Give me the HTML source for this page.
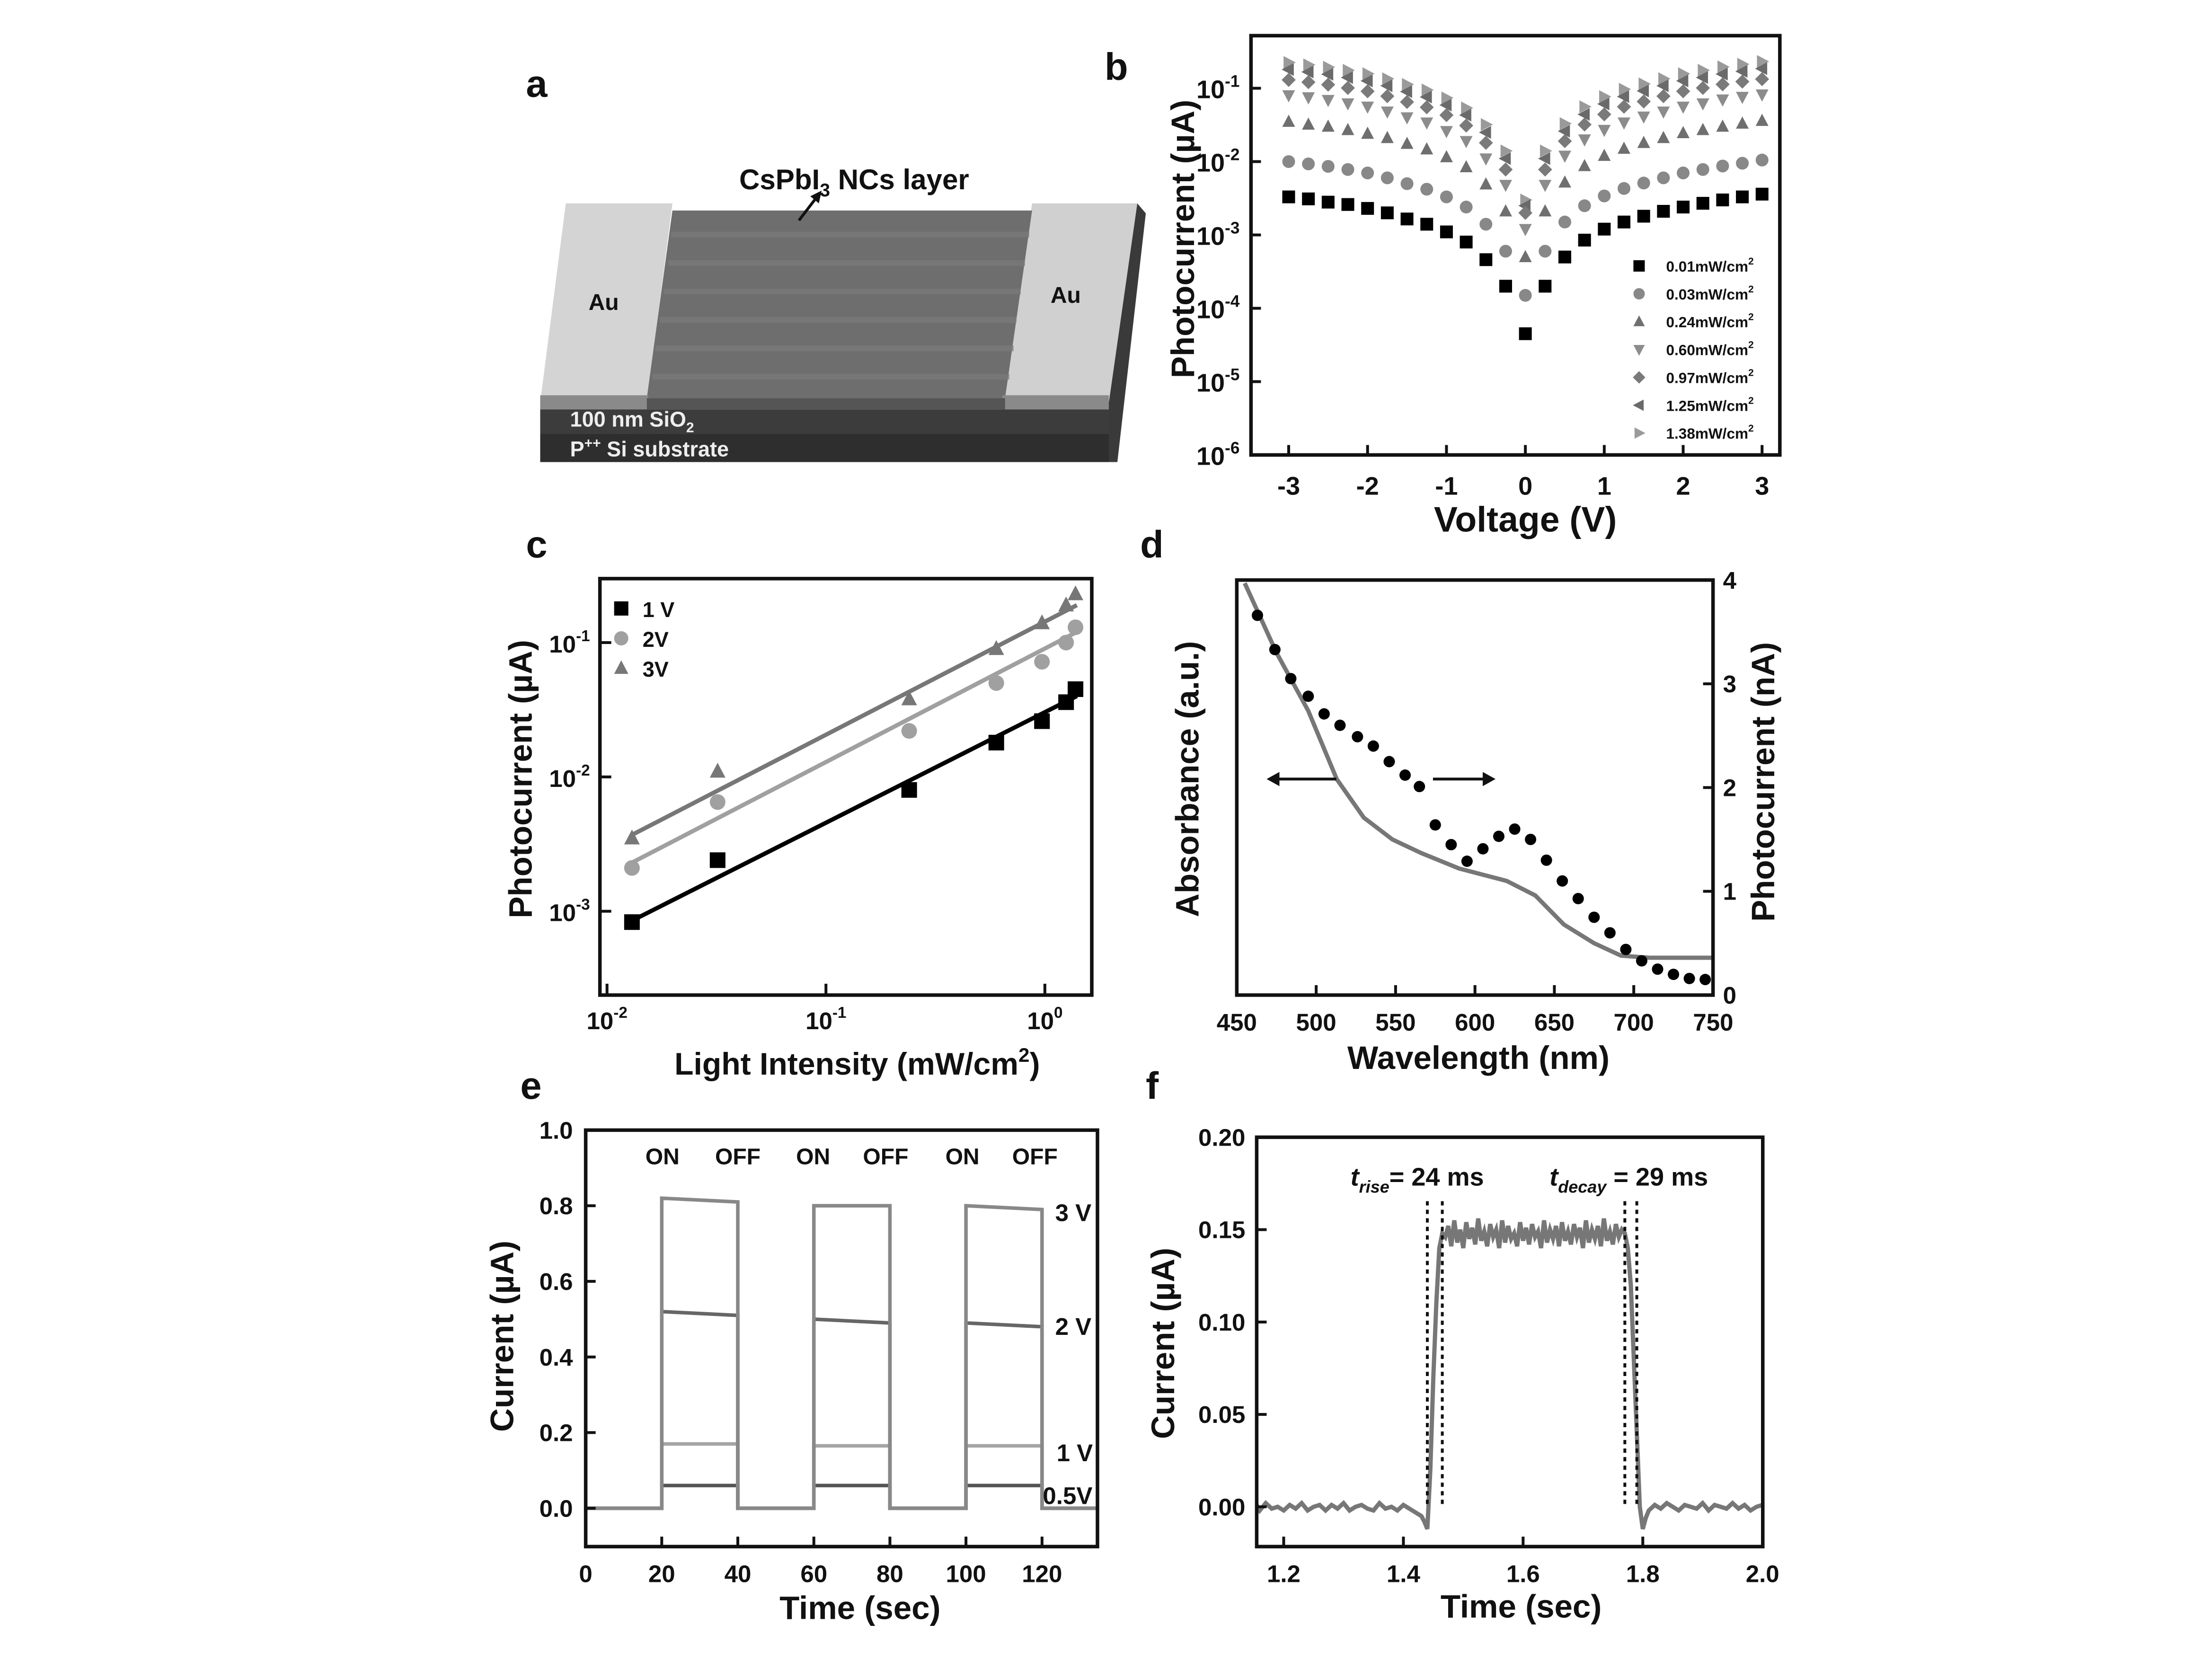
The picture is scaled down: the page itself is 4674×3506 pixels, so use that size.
<!DOCTYPE html>
<html><head><meta charset="utf-8"><style>
html,body{margin:0;padding:0;background:#fff;}
svg{display:block;}
text{font-family:"Liberation Sans",Arial,sans-serif;font-weight:bold;fill:#111;}
</style></head><body>
<svg id="fig" xmlns="http://www.w3.org/2000/svg" width="4674" height="3506" viewBox="0 0 1556 1167">
<rect x="0" y="0" width="1556" height="1167" fill="#fff"/>
<text x="370" y="68" font-size="27">a</text>
<text x="777" y="56" font-size="27">b</text>
<text x="370" y="392" font-size="27">c</text>
<text x="802" y="392" font-size="27">d</text>
<text x="366" y="773" font-size="27">e</text>
<text x="806" y="773" font-size="27">f</text>

<g>
  <polygon points="780,283 800,143 806,150 786,325 780,325" fill="#3a3a3a"/>
  <polygon points="398,143 473,143 455,283 380,283" fill="#d4d4d4"/>
  <polygon points="726,143 800,143 780,283 705,283" fill="#d0d0d0"/>
  <polygon points="473,148 726,148 707,280 455,280" fill="#6e6e6e"/>
  <g stroke="#7c7c7c" stroke-width="4" opacity="0.7">
    <line x1="472" y1="165" x2="724" y2="165"/><line x1="470" y1="185" x2="721" y2="185"/>
    <line x1="467" y1="205" x2="718" y2="205"/><line x1="464" y1="225" x2="715" y2="225"/>
    <line x1="461" y1="245" x2="713" y2="245"/><line x1="459" y1="265" x2="710" y2="265"/>
  </g>
  <rect x="380" y="278" width="76" height="12" fill="#8a8a8a"/>
  <rect x="705" y="278" width="75" height="12" fill="#8a8a8a"/>
  <rect x="455" y="280" width="252" height="8" fill="#555"/>
  <rect x="380" y="288" width="400" height="17" fill="#3c3c3c"/>
  <rect x="380" y="305" width="400" height="20" fill="#2e2e2e"/>
  <text x="414" y="218" font-size="16">Au</text>
  <text x="739" y="213" font-size="16">Au</text>
  <text x="520" y="133" font-size="20">CsPbI<tspan font-size="13" dy="5">3</tspan><tspan dy="-5"> NCs layer</tspan></text>
  <line x1="562" y1="155" x2="575" y2="138" stroke="#111" stroke-width="2"/>
  <polygon points="578,134 570,138 576,143" fill="#111"/>
  <text x="401" y="300" font-size="15" style="fill:#eee">100 nm SiO<tspan font-size="10" dy="4">2</tspan></text>
  <text x="401" y="321" font-size="15" style="fill:#eee">P<tspan font-size="10" dy="-6">++</tspan><tspan dy="6"> Si substrate</tspan></text>
</g>

<g id="pb"></g>
<g id="pc"></g>
<g id="pd"></g>
<g id="pe"></g>
<g id="pf"></g>
</svg>
<script>
const bVolt = [-3,-2.75,-2.5,-2.25,-2,-1.75,-1.5,-1.25,-1,-0.75,-0.5,-0.25,0,0.25,0.5,0.75,1,1.25,1.5,1.75,2,2.25,2.5,2.75,3];
const bLabels = ['0.01mW/cm','0.03mW/cm','0.24mW/cm','0.60mW/cm','0.97mW/cm','1.25mW/cm','1.38mW/cm'];
const bS1 = [3.3,3.1,2.8,2.6,2.3,2.0,1.65,1.4,1.1,0.8,0.46,0.2,0.045,0.2,0.5,0.85,1.2,1.5,1.8,2.1,2.4,2.7,3.0,3.3,3.6];
const bS2 = [10,9.3,8.6,7.8,7,6,5,4.2,3.3,2.4,1.4,0.6,0.15,0.6,1.5,2.5,3.4,4.3,5.1,6,7,7.8,8.7,9.5,10.5];
const bS3 = [35,32,30,27,24,21,17.5,14.7,11.5,8.4,4.9,2.1,0.5,2.1,5.2,8.7,12,15,18,21,24.5,27,30,33,36];
const bS4 = [80,75,69,62,56,48,40,34,26,19,11,4.8,1.2,4.8,12,20,27,34,41,48,56,62,70,76,82];
const bS5 = [130,121,112,101,91,78,65,55,43,31,18,7.8,2,7.8,19,32,44,56,66,78,91,101,113,123,133];
const bS6 = [180,167,155,140,126,108,90,76,59,43,25,11,2.5,11,26,44,61,77,92,108,126,140,156,170,185];
const bS7 = [225,209,194,176,158,135,113,95,74,54,32,14,3,14,33,56,77,97,115,135,158,176,196,213,232];
const bXTicks = [-3,-2,-1,0,1,2,3];
const bYTicks = [-6,-5,-4,-3,-2,-1];

const cIntensity = [0.013,0.032,0.24,0.6,0.97,1.25,1.38];
const c1V = [8.3e-4,2.4e-3,8e-3,1.8e-2,2.6e-2,3.6e-2,4.5e-2];
const c2V = [2.1e-3,6.5e-3,2.2e-2,5e-2,7.2e-2,1.0e-1,1.3e-1];
const c3V = [3.5e-3,1.1e-2,3.8e-2,9e-2,1.4e-1,1.9e-1,2.3e-1];
const cFitX = [0.013,1.4];
const cFit1 = [8.5e-4,4.0e-2];
const cFit2 = [2.3e-3,1.2e-1];
const cFit3 = [3.7e-3,1.9e-1];
const cXTicks = [-2,-1,0];
const cYTicks = [-3,-2,-1];

const dAbsWl = [455,475,495,513,530,548,566,590,620,638,656,675,692,710,750];
const dAbsVal = [3.97,3.3,2.74,2.08,1.71,1.5,1.37,1.22,1.1,0.96,0.68,0.5,0.38,0.36,0.36];
const dPcWl = [463,474,484,495,505,515,526,536,546,556,565,575,585,595,605,615,625,635,645,655,665,675,685,695,705,715,725,735,745];
const dPcVal = [3.66,3.33,3.05,2.88,2.71,2.6,2.49,2.4,2.25,2.12,2.01,1.64,1.45,1.29,1.41,1.53,1.6,1.5,1.3,1.1,0.93,0.75,0.6,0.44,0.33,0.25,0.2,0.16,0.15];
const dXTicks = [450,500,550,600,650,700,750];
const dYTicks = [0,1,2,3,4];

const eOnStart = [20,60,100];
const eOnEnd = [40,80,120];
const e3Start = [0.82,0.80,0.80], e3End = [0.81,0.80,0.79];
const e2Start = [0.52,0.50,0.49], e2End = [0.51,0.49,0.48];
const e1Start = [0.17,0.165,0.165], e1End = [0.17,0.165,0.165];
const e05Start = [0.06,0.06,0.06], e05End = [0.06,0.06,0.06];
const eXTicks = [0,20,40,60,80,100,120];
const eYTicks = [0,0.2,0.4,0.6,0.8,1.0];

const fBeforeStart = 1.15, fStep = 0.01;
const fBefore = [0.001,-0.002,0.002,-0.001,0.0,-0.002,0.001,-0.001,0.002,-0.002,0.0,0.001,-0.002,0.001,-0.001,0.002,-0.002,0.0,0.001,-0.001,-0.002,0.002,-0.001,0.0,-0.002,0.001,-0.001,-0.003,-0.005];
const fRiseT = [1.435,1.44,1.445,1.45,1.455,1.46,1.465];
const fRiseV = [-0.008,-0.012,0.02,0.07,0.11,0.14,0.148];
const fPlatStart = 1.47, fPlatStep = 0.005;
const fPlat = [0.146,0.152,0.141,0.155,0.143,0.150,0.140,0.154,0.145,0.151,0.142,0.156,0.144,0.149,0.141,0.153,0.146,0.150,0.140,0.155,0.143,0.152,0.145,0.148,0.141,0.154,0.144,0.151,0.142,0.153,0.146,0.149,0.140,0.155,0.143,0.150,0.145,0.152,0.141,0.154,0.144,0.149,0.142,0.153,0.146,0.151,0.140,0.155,0.143,0.150,0.145,0.152,0.141,0.156,0.144,0.149,0.142,0.153,0.146,0.150,0.148];
const fFallT = [1.775,1.78,1.785,1.79,1.795,1.80,1.805];
const fFallV = [0.14,0.12,0.08,0.04,0.0,-0.012,-0.006];
const fAfterStart = 1.81;
const fAfter = [-0.002,0.001,-0.001,0.002,0.0,-0.002,0.001,0.0,-0.001,0.002,-0.002,0.001,0.0,-0.001,0.002,-0.001,0.001,-0.002,0.0,0.001];
const fMarkers = [1.44,1.465,1.77,1.79];
const fXTicks = [1.2,1.4,1.6,1.8,2.0];
const fYTicks = [0,0.05,0.10,0.15,0.20];

const NS = 'http://www.w3.org/2000/svg';
function mk(tag, attrs, parent){
  const el = document.createElementNS(NS, tag);
  for (const k in attrs) el.setAttribute(k, attrs[k]);
  parent.appendChild(el);
  return el;
}
function txt(parent, x, y, s, size, anchor){
  const t = mk('text', {x:x, y:y, 'font-size':size, 'text-anchor':anchor||'middle'}, parent);
  t.textContent = s;
  return t;
}
function powLabel(parent, x, y, exp, size, anchor){
  const t = mk('text', {x:x, y:y, 'font-size':size, 'text-anchor':anchor||'middle'}, parent);
  t.appendChild(document.createTextNode('10'));
  const sp = mk('tspan', {dy:-8, 'font-size':size*0.65}, t);
  sp.textContent = String(exp);
  return t;
}
function marker(parent, shape, x, y, s, color){
  let el;
  if (shape==='square') el = mk('rect', {x:x-s/2, y:y-s/2, width:s, height:s, fill:color}, parent);
  else if (shape==='circle') el = mk('circle', {cx:x, cy:y, r:s/2, fill:color}, parent);
  else {
    const h=s/2; let p;
    if (shape==='up') p=[[x,y-h*1.1],[x+h,y+h*0.8],[x-h,y+h*0.8]];
    else if (shape==='down') p=[[x,y+h*1.1],[x+h,y-h*0.8],[x-h,y-h*0.8]];
    else if (shape==='left') p=[[x-h*1.1,y],[x+h*0.8,y-h],[x+h*0.8,y+h]];
    else if (shape==='right') p=[[x+h*1.1,y],[x-h*0.8,y-h],[x-h*0.8,y+h]];
    else p=[[x,y-h*1.1],[x+h*1.1,y],[x,y+h*1.1],[x-h*1.1,y]];
    el = mk('polygon', {points:p.map(q=>q.join(',')).join(' '), fill:color}, parent);
  }
  return el;
}
function frame(parent, x0,y0,x1,y1){
  return mk('rect',{x:x0,y:y0,width:x1-x0,height:y1-y0,fill:'none',stroke:'#111','stroke-width':2.5},parent);
}
function tick(parent,x1,y1,x2,y2){
  return mk('line',{x1:x1,y1:y1,x2:x2,y2:y2,stroke:'#111','stroke-width':2},parent);
}

(function(){
  const g = document.getElementById('pb');
  const L=880,R=1252,T=25,B=320;
  const xb = v => 1073 + v*55.5;
  const yb = v => 320 - (Math.log10(v)+6)*51.6;
  const series = [bS7,bS6,bS5,bS4,bS3,bS2,bS1];
  const shapes = ['right','left','diamond','down','up','circle','square'];
  const colors = ['#9a9a9a','#6a6a6a','#7a7a7a','#8c8c8c','#6f6f6f','#888','#000'];
  series.forEach((s,si)=>{
    const sg = mk('g',{},g);
    
    
    s.forEach((v,i)=>{
      const m = marker(sg, shapes[si], xb(bVolt[i]), yb(v*1e-3), 9, colors[si]);
      
      
    });
  });
  const fr = frame(g,L,T,R,B);
  
  
  bXTicks.forEach(v=>{
    tick(g,xb(v),B,xb(v),B-7);
    const t = txt(g,xb(v),348,String(v),18);
    
    
  });
  bYTicks.forEach(e=>{
    tick(g,L,yb(Math.pow(10,e)),L+7,yb(Math.pow(10,e)));
    const t = powLabel(g,872,yb(Math.pow(10,e))+7,e,18,'end');
    
    
  });
  const xt = txt(g,1073,374,'Voltage (V)',25);
  
  
  const yt = txt(g,0,0,'Photocurrent (µA)',23);
  yt.setAttribute('transform','translate(840,168) rotate(-90)');
  
  
  const lshapes=['square','circle','up','down','diamond','left','right'];
  const lcolors=['#000','#888','#6f6f6f','#8c8c8c','#7a7a7a','#6a6a6a','#9a9a9a'];
  bLabels.forEach((lab,i)=>{
    const y = 187 + i*19.6;
    const m = marker(g,lshapes[i],1153,y,8,lcolors[i]);
    
    
    const t = mk('text',{x:1172,y:y+4,'font-size':10.5},g);
    t.appendChild(document.createTextNode(lab));
    const sp = mk('tspan',{dy:-5,'font-size':7},t); sp.textContent='2';
    
    
  });
})();

(function(){
  const g = document.getElementById('pc');
  const L=422,R=768,T=407,B=700;
  const xc = v => 735 + Math.log10(v)*154;
  const yc = v => 452 - (Math.log10(v)+1)*94.5;
  const fits=[cFit1,cFit2,cFit3], data=[c1V,c2V,c3V];
  const col=['#000','#a0a0a0','#777'], shp=['square','circle','up'];
  fits.forEach((f,i)=>{
    const l = mk('line',{x1:xc(cFitX[0]),y1:yc(f[0]),x2:xc(cFitX[1]),y2:yc(f[1]),stroke:col[i],'stroke-width':3},g);
    
    
  });
  data.forEach((s,i)=>{
    s.forEach((v,j)=>{
      const m = marker(g,shp[i],xc(cIntensity[j]),yc(v),11,col[i]);
      
      
    });
  });
  const fr = frame(g,L,T,R,B);
  
  
  cXTicks.forEach(e=>{
    const x = xc(Math.pow(10,e));
    tick(g,x,B,x,B-8);
    const t = powLabel(g,x,724,e,17);
    
    
  });
  cYTicks.forEach(e=>{
    const y = yc(Math.pow(10,e));
    tick(g,L,y,L+8,y);
    const t = powLabel(g,415,y+7,e,17,'end');
    
    
  });
  const xt = mk('text',{x:603,y:756,'font-size':22,'text-anchor':'middle'},g);
  xt.appendChild(document.createTextNode('Light Intensity (mW/cm'));
  const sp = mk('tspan',{dy:-9,'font-size':14},xt); sp.textContent='2';
  const sp2 = mk('tspan',{dy:9},xt); sp2.textContent=')';
  
  
  const yt = txt(g,0,0,'Photocurrent (µA)',23);
  yt.setAttribute('transform','translate(374,548) rotate(-90)');
  
  
  ['1 V','2V','3V'].forEach((lab,i)=>{
    const y = 428 + i*21;
    const m = marker(g,shp[i],437,y,10,col[i]);
    
    
    const t = txt(g,452,y+6,lab,15,'start');
    
    
  });
})();

(function(){
  const g = document.getElementById('pd');
  const L=870,R=1205,T=408,B=700;
  const xd = w => 870 + (w-450)*1.117;
  const yd = v => 700 - v*73;
  const p = mk('path',{d:dAbsWl.map((w,i)=>(i?'L':'M')+xd(w)+','+yd(dAbsVal[i])).join(' '),fill:'none',stroke:'#777','stroke-width':3,'stroke-linejoin':'round'},g);
  
  
  dPcWl.forEach((w,i)=>{
    const c = mk('circle',{cx:xd(w),cy:yd(dPcVal[i]),r:4,fill:'#000'},g);
    
    
  });
  const fr = frame(g,L,T,R,B);
  
  
  dXTicks.forEach(w=>{
    tick(g,xd(w),B,xd(w),B-7);
    const t = txt(g,xd(w),725,String(w),17);
    
    
  });
  dYTicks.forEach(v=>{
    tick(g,R,yd(v),R-7,yd(v));
    const t = txt(g,1212,yd(v)+6,String(v),17,'start');
    
    
  });
  const a1 = mk('line',{x1:940,y1:548,x2:897,y2:548,stroke:'#111','stroke-width':2},g);
  
  
  mk('polygon',{points:'891,548 900,543 900,553',fill:'#111'},g);
  const a2 = mk('line',{x1:1008,y1:548,x2:1045,y2:548,stroke:'#111','stroke-width':2},g);
  
  
  mk('polygon',{points:'1052,548 1043,543 1043,553',fill:'#111'},g);
  const xt = txt(g,1040,752,'Wavelength (nm)',23);
  
  
  const yt = txt(g,0,0,'Absorbance (a.u.)',23);
  yt.setAttribute('transform','translate(843,548) rotate(-90)');
  
  
  const yt2 = txt(g,0,0,'Photocurrent (nA)',23);
  yt2.setAttribute('transform','translate(1248,550) rotate(-90)');
  
  
})();

(function(){
  const g = document.getElementById('pe');
  const L=412,R=772,T=795,B=1088;
  const xe = t => 412 + t*2.675;
  const ye = v => 1061 - v*266;
  const traces = [[e05Start,e05End,'#555','0.5v'],[e1Start,e1End,'#a5a5a5','1v'],[e2Start,e2End,'#666','2v'],[e3Start,e3End,'#888','3v']];
  traces.forEach(tr=>{
    let d = 'M'+xe(0)+','+ye(0);
    eOnStart.forEach((s,i)=>{
      d += ' L'+xe(s)+','+ye(0)+' L'+xe(s)+','+ye(tr[0][i])+' L'+xe(eOnEnd[i])+','+ye(tr[1][i])+' L'+xe(eOnEnd[i])+','+ye(0);
    });
    d += ' L'+xe(134.5)+','+ye(0);
    const p = mk('path',{d:d,fill:'none',stroke:tr[2],'stroke-width':2.5},g);
    
    
  });
  const fr = frame(g,L,T,R,B);
  
  
  eXTicks.forEach(v=>{
    tick(g,xe(v),B,xe(v),B-7);
    const t = txt(g,xe(v),1113,String(v),17);
    
    
  });
  eYTicks.forEach(v=>{
    tick(g,L,ye(v),L+7,ye(v));
    const t = txt(g,403,ye(v)+6,v.toFixed(1),17,'end');
    
    
  });
  ['ON','OFF','ON','OFF','ON','OFF'].forEach((s,i)=>{
    const xs=[466,519,572,623,677,728];
    const t = txt(g,xs[i],819,s,16);
    
    
  });
  [['3 V',755,859],['2 V',755,939],['1 V',756,1028],['0.5V',751,1058]].forEach(a=>{
    const t = txt(g,a[1],a[2],a[0],17);
    
    
  });
  const xt = txt(g,605,1139,'Time (sec)',23);
  
  
  const yt = txt(g,0,0,'Current (µA)',23);
  yt.setAttribute('transform','translate(361,940) rotate(-90)');
  
  
})();

(function(){
  const g = document.getElementById('pf');
  const L=884,R=1240,T=800,B=1088;
  const xf = t => 903 + (t-1.2)*421;
  const yf = v => 1060 - v*1300;
  const pts = [];
  fBefore.forEach((v,i)=>pts.push([fBeforeStart+i*fStep,v]));
  fRiseT.forEach((t,i)=>pts.push([t,fRiseV[i]]));
  fPlat.forEach((v,i)=>pts.push([fPlatStart+i*fPlatStep,v]));
  fFallT.forEach((t,i)=>pts.push([t,fFallV[i]]));
  fAfter.forEach((v,i)=>pts.push([fAfterStart+i*fStep,v]));
  const p = mk('path',{d:pts.map((q,i)=>(i?'L':'M')+Math.max(L,Math.min(R,xf(q[0])))+','+yf(q[1])).join(' '),fill:'none',stroke:'#777','stroke-width':3},g);
  
  
  fMarkers.forEach(t=>{
    const l = mk('line',{x1:xf(t),y1:845,x2:xf(t),y2:1058,stroke:'#111','stroke-width':2,'stroke-dasharray':'3,3'},g);
    
    
  });
  const fr = frame(g,L,T,R,B);
  
  
  fXTicks.forEach(v=>{
    tick(g,xf(v),B,xf(v),B-7);
    const t = txt(g,xf(v),1113,v.toFixed(1),17);
    
    
  });
  fYTicks.forEach(v=>{
    tick(g,L,yf(v),L+7,yf(v));
    const t = txt(g,876,yf(v)+6,v.toFixed(2),17,'end');
    
    
  });
  const r = mk('text',{x:950,y:834,'font-size':18},g);
  const r1 = mk('tspan',{'font-style':'italic'},r); r1.textContent='t';
  const r2 = mk('tspan',{dy:5,'font-size':12,'font-style':'italic'},r); r2.textContent='rise';
  const r3 = mk('tspan',{dy:-5},r); r3.textContent='= 24 ms';
  
  
  const dcy = mk('text',{x:1090,y:834,'font-size':18},g);
  const d1 = mk('tspan',{'font-style':'italic'},dcy); d1.textContent='t';
  const d2 = mk('tspan',{dy:5,'font-size':12,'font-style':'italic'},dcy); d2.textContent='decay';
  const d3 = mk('tspan',{dy:-5},dcy); d3.textContent=' = 29 ms';
  
  
  const xt = txt(g,1070,1138,'Time (sec)',23);
  
  
  const yt = txt(g,0,0,'Current (µA)',23);
  yt.setAttribute('transform','translate(826,945) rotate(-90)');
  
  
})();
</script>
</body></html>
